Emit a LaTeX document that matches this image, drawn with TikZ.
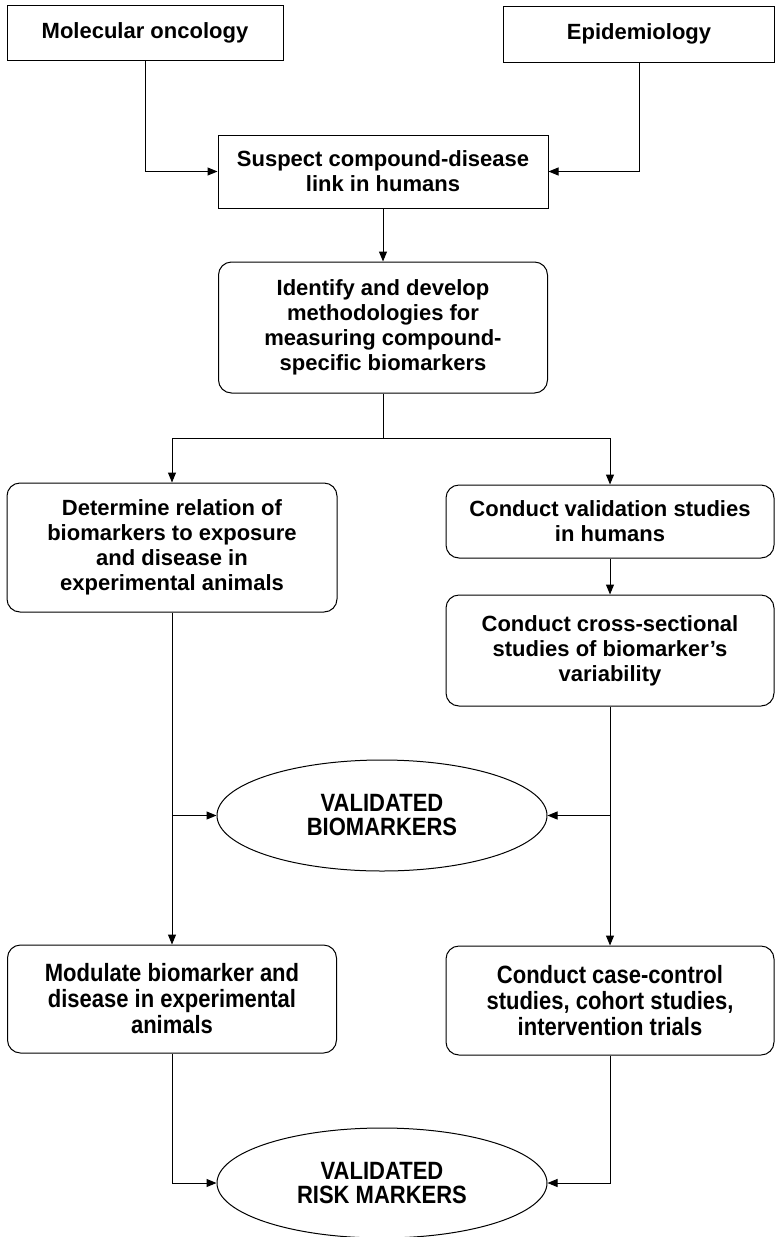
\documentclass[tikz,border=0pt]{standalone}
\usepackage{fontspec}
\setmainfont{Liberation Sans}
\newfontfamily\narrowfont[FakeStretch=0.88]{Liberation Sans}
\usetikzlibrary{shapes,arrows.meta,positioning,calc}

\begin{document}
\begin{tikzpicture}[x=1pt,y=-1pt,>={Triangle[length=10pt,width=8pt]},line width=1pt,font=\fontsize{22}{25}\selectfont\bfseries]
  \tikzstyle{plainbox}=[draw,rectangle,line width=1pt,align=center,inner sep=0pt,minimum width=330pt]
  \tikzstyle{roundbox}=[plainbox,rounded corners=13pt]
  \tikzstyle{goal}=[draw,ellipse,line width=1pt,align=center,inner sep=0pt,minimum width=330pt,minimum height=111pt,font=\narrowfont\fontsize{25}{24}\selectfont\bfseries]
  \useasboundingbox (0,0) rectangle (774,1237);

  % sources
  \node[plainbox,minimum width=276pt,minimum height=55pt] (MOLONC) at (145,32.5) {Molecular oncology};
  \node[plainbox,minimum width=271pt,minimum height=56pt] (EPIDEM) at (639,34) {Epidemiology};
  \node[plainbox,minimum height=73pt] (SUSPECT) at (383,171.5) {Suspect compound-disease\\link in humans};
  \node[roundbox,minimum width=329pt,minimum height=131pt] (IDENTIFY) at (383,327.5) {Identify and develop\\methodologies for\\measuring compound-\\specific biomarkers};

  % two branches
  \node[roundbox,minimum height=129pt] (DETERMINE) at (172,547.5) {Determine relation of\\biomarkers to exposure\\and disease in\\experimental animals};
  \node[roundbox,minimum width=328pt,minimum height=73pt] (VALIDATE) at (610,521.5) {Conduct validation studies\\in humans};
  \node[roundbox,minimum width=328pt,minimum height=111pt] (CROSSSEC) at (610,650.5) {Conduct cross-sectional\\studies of biomarker's\\variability};
  \node[goal] (BIOMARK) at (382,815.5) {VALIDATED\\BIOMARKERS};
  \node[roundbox,minimum width=329pt,minimum height=108pt,font=\narrowfont\fontsize{25}{26}\selectfont\bfseries] (MODULATE) at (172,999) {Modulate biomarker and\\disease in experimental\\animals};
  \node[roundbox,minimum width=328pt,minimum height=109pt,font=\narrowfont\fontsize{25}{26}\selectfont\bfseries] (CASECTRL) at (610,1000.5) {Conduct case-control\\studies, cohort studies,\\intervention trials};
  \node[goal,minimum height=110pt] (RISKMARK) at (382,1183) {VALIDATED\\RISK MARKERS};

  \coordinate (SPLIT) at (383,438);

  \draw[->] (MOLONC.south) |- (SUSPECT.west);
  \draw[->] (EPIDEM.south) |- (SUSPECT.east);
  \draw[->] (SUSPECT.south) -- (IDENTIFY.north);
  \draw (IDENTIFY.south) -- (SPLIT);
  \draw[->] (SPLIT) -| (DETERMINE.north);
  \draw[->] (SPLIT) -| (VALIDATE.north);
  \draw[->] (VALIDATE.south) -- (CROSSSEC.north);
  \draw[->] (DETERMINE.south) -- (MODULATE.north);
  \draw[->] (DETERMINE.south |- BIOMARK.west) -- (BIOMARK.west);
  \draw[->] (CROSSSEC.south) -- (CASECTRL.north);
  \draw[->] (CROSSSEC.south |- BIOMARK.east) -- (BIOMARK.east);
  \draw[->] (MODULATE.south) |- (RISKMARK.west);
  \draw[->] (CASECTRL.south) |- (RISKMARK.east);
\end{tikzpicture}
\end{document}
